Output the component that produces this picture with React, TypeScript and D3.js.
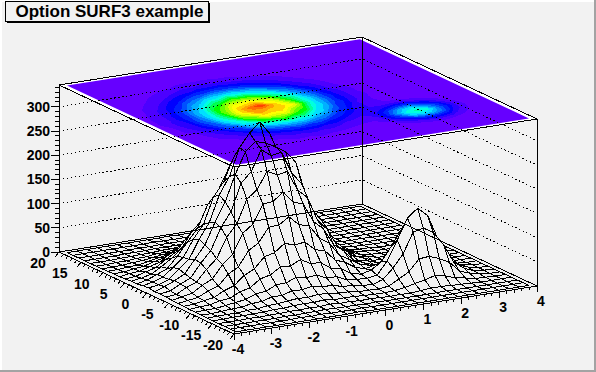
import React, { useMemo } from "react";
import * as d3 from "d3";

const W = 596, H = 372;
const titleText = "Option SURF3 example";
const xTicks = [-4, -3, -2, -1, 0, 1, 2, 3, 4];
const yTicks = [20, 15, 10, 5, 0, -5, -10, -15, -20];
const zTicks = [0, 50, 100, 150, 200, 250, 300];
const contourLevels = [0,8,18,30,42,56,70,84,100,118,134,150,165,181,198,214,231,250,268,284,298,311];
const contourColors = ["#6600ff","#4c00ff","#2a00ff","#0000ff","#0020ff","#0050ff","#0080ff","#00b0ff","#00e0ff","#00ffe0","#00ffa0","#00ff50","#00ff00","#60ff00","#a0ff00","#e0ff00","#ffff00","#ffd000","#ffa000","#ff7000","#ff4000","#ff0000"];

// bin contents: one row per y bin (y = -20 .. 20), one column per x bin (x = -4 .. 4)
const row00 = [0,0,0,0,0,0,0,0,0,0,0,0,1,0,0,0,0,0,0,0,0,0,0,0,0,0,0,0,0,0];
const row01 = [0,0,0,0,0,0,0,1,0,1,0,0,0,1,0,0,0,0,0,0,0,0,0,0,0,0,0,0,0,0];
const row02 = [0,0,0,0,0,0,1,0,1,1,2,1,1,1,0,1,0,0,0,0,0,0,1,0,0,0,0,0,0,0];
const row03 = [0,0,0,1,0,1,1,2,2,3,2,4,2,3,1,2,1,0,1,0,2,4,4,3,2,1,0,0,0,0];
const row04 = [0,0,1,1,1,2,3,3,5,6,5,7,4,5,4,3,2,2,3,6,11,15,21,17,10,6,2,1,0,0];
const row05 = [0,1,1,1,3,3,6,7,9,11,10,13,11,9,8,5,5,4,7,18,30,53,55,47,36,15,7,2,0,0];
const row06 = [1,0,2,3,4,8,9,15,15,21,20,24,19,20,13,13,9,8,15,35,61,103,108,95,67,28,12,3,1,0];
const row07 = [1,2,2,5,8,11,19,21,31,32,40,36,38,29,28,18,16,15,18,44,84,126,143,125,74,41,13,5,1,0];
const row08 = [1,3,4,9,11,21,26,41,46,59,58,68,56,55,40,36,22,18,23,37,66,97,115,90,62,33,11,4,1,0];
const row09 = [2,3,7,10,21,28,46,56,78,83,99,92,95,76,70,48,40,26,20,25,35,52,60,52,34,16,6,2,0,0];
const row10 = [2,5,8,18,25,46,58,88,101,130,131,145,125,120,91,77,49,37,24,18,17,20,22,17,11,6,2,1,0,0];
const row11 = [3,7,11,24,34,60,78,118,134,172,174,190,166,159,120,101,65,49,26,18,10,8,6,5,3,1,0,0,0,0];
const row12 = [4,6,17,25,48,67,108,132,180,196,231,220,224,183,163,113,90,52,38,17,13,5,3,1,1,0,0,0,0,0];
const row13 = [5,8,19,28,55,78,122,152,207,228,270,254,258,212,186,130,103,61,43,21,14,5,3,2,0,1,0,0,0,0];
const row14 = [4,11,20,31,58,84,128,166,220,263,281,275,263,250,225,152,101,73,40,27,11,8,2,1,1,0,0,0,0,0];
const row15 = [6,9,17,35,52,90,121,175,210,266,293,313,285,236,198,141,110,66,46,22,15,5,3,2,0,1,0,0,0,0];
const row16 = [5,9,16,33,50,84,112,165,193,240,252,272,239,225,172,142,94,68,37,25,11,7,4,1,1,0,0,0,0,0];
const row17 = [3,8,16,25,47,73,98,144,168,209,216,236,209,195,150,124,82,60,33,18,12,4,2,2,0,0,1,0,0,0];
const row18 = [3,6,11,23,37,55,85,106,146,158,186,177,179,148,131,92,72,43,30,15,8,5,2,1,1,0,0,0,0,0];
const row19 = [2,4,10,15,29,41,65,80,110,119,141,133,136,110,98,70,54,31,22,11,7,3,2,1,0,0,0,0,0,0];
const row20 = [1,4,6,12,18,32,41,62,70,90,92,100,88,84,63,53,34,25,14,9,4,3,1,0,1,0,0,0,0,0];
const row21 = [1,2,5,7,13,18,30,36,50,54,64,60,62,50,45,31,25,15,10,5,3,1,1,0,0,0,0,0,0,0];
const row22 = [1,1,3,4,8,12,16,25,27,36,35,41,34,33,24,21,13,11,5,4,2,1,0,0,0,0,0,0,0,0];
const row23 = [0,1,1,3,4,7,10,12,18,18,23,20,22,17,16,10,9,5,4,1,1,1,0,0,0,0,0,0,0,0];
const row24 = [0,0,1,1,3,3,6,6,10,10,11,12,10,10,7,7,4,3,2,1,0,1,0,0,0,0,0,0,0,0];
const row25 = [0,0,0,1,1,2,2,4,4,6,5,6,5,5,4,3,2,1,1,1,0,0,0,0,0,0,0,0,0,0];
const row26 = [0,0,0,0,1,1,1,2,2,2,3,3,2,2,2,1,1,1,0,0,0,0,0,0,0,0,0,0,0,0];
const row27 = [0,0,0,0,0,0,1,0,1,1,1,1,1,1,1,0,1,0,0,0,0,0,0,0,0,0,0,0,0,0];
const row28 = [0,0,0,0,0,0,0,0,1,0,0,0,1,0,0,0,0,0,0,0,0,0,0,0,0,0,0,0,0,0];
const row29 = [0,0,0,0,0,0,0,0,0,0,1,0,0,0,0,0,0,0,0,0,0,0,0,0,0,0,0,0,0,0];
const rows = [row00,row01,row02,row03,row04,row05,row06,row07,row08,row09,row10,row11,row12,row13,row14,row15,row16,row17,row18,row19,row20,row21,row22,row23,row24,row25,row26,row27,row28,row29];

const NB = 30;
const xMin = -4, xMax = 4, yMin = -20, yMax = 20, zMax = 345;
// oblique projection of the box: the front-bottom corner and the three edge vectors
const uScale = d3.scaleLinear().domain([xMin, xMax]).range([0, 1]);
const vScale = d3.scaleLinear().domain([yMin, yMax]).range([0, 1]);
const zScale = d3.scaleLinear().domain([0, zMax]).range([0, 167]);
const origin = [234, 334];
const ex = [303, -48];
const ey = [-175, -82];
function project(x: number, y: number, z: number): [number, number] {
  const u = uScale(x), v = vScale(y);
  return [origin[0] + u * ex[0] + v * ey[0], origin[1] + u * ex[1] + v * ey[1] - zScale(z)];
}
const binX = (i: number) => xMin + ((i + 0.5) * (xMax - xMin)) / NB;
const binY = (j: number) => yMin + ((j + 0.5) * (yMax - yMin)) / NB;

function polyPath(p: [number, number][], close = true) {
  return "M" + p.map((q) => q[0].toFixed(1) + "," + q[1].toFixed(1)).join("L") + (close ? "Z" : "");
}

// raster hidden-line removal: cells front to back, a mask of pixels already covered
function buildMesh(): string {
  const mask = new Uint8Array(W * H);
  const hit = (x: number, y: number) => {
    const px = Math.floor(x), py = Math.floor(y);
    if (px < 0 || py < 0 || px >= W || py >= H) return false;
    return mask[py * W + px] === 1;
  };
  let out = "";
  const drawEdge = (a: [number, number], b: [number, number]) => {
    const len = Math.hypot(b[0] - a[0], b[1] - a[1]);
    const n = Math.max(1, Math.ceil(len / 0.25));
    let start: [number, number] | null = null;
    let last: [number, number] = a;
    for (let k = 0; k <= n; k++) {
      const t = k / n;
      const p: [number, number] = [a[0] + (b[0] - a[0]) * t, a[1] + (b[1] - a[1]) * t];
      if (!hit(p[0], p[1])) {
        if (!start) start = p;
        last = p;
      } else if (start) {
        out += polyPath([start, last], false);
        start = null;
      }
    }
    if (start) out += polyPath([start, last], false);
  };
  const fill = (poly: [number, number][]) => {
    const ys = poly.map((p) => p[1]);
    const y0 = Math.max(0, Math.floor(d3.min(ys)!));
    const y1 = Math.min(H - 1, Math.ceil(d3.max(ys)!));
    for (let y = y0; y <= y1; y++) {
      const sy = y + 0.5;
      const xs: number[] = [];
      for (let k = 0; k < poly.length; k++) {
        const a = poly[k], b = poly[(k + 1) % poly.length];
        if ((a[1] <= sy && b[1] > sy) || (b[1] <= sy && a[1] > sy)) {
          xs.push(a[0] + ((sy - a[1]) / (b[1] - a[1])) * (b[0] - a[0]));
        }
      }
      xs.sort((p, q) => p - q);
      for (let k = 0; k + 1 < xs.length; k += 2) {
        for (let x = Math.ceil(xs[k] - 0.5); x + 0.5 <= xs[k + 1]; x++) {
          if (x >= 0 && x < W) mask[y * W + x] = 1;
        }
      }
    }
  };
  for (let i = 0; i < NB - 1; i++) {
    for (let j = 0; j < NB - 1; j++) {
      const p00 = project(binX(i), binY(j), rows[j][i]);
      const p10 = project(binX(i + 1), binY(j), rows[j][i + 1]);
      const p11 = project(binX(i + 1), binY(j + 1), rows[j + 1][i + 1]);
      const p01 = project(binX(i), binY(j + 1), rows[j + 1][i]);
      drawEdge(p00, p10);
      drawEdge(p10, p11);
      drawEdge(p11, p01);
      drawEdge(p01, p00);
      fill([p00, p10, p11, p01]);
    }
  }
  return out;
}

function buildContours() {
  const flat = rows.flat();
  const gen = d3.contours().size([NB, NB]).thresholds(contourLevels);
  const transform = d3.geoTransform({
    point(gx: number, gy: number) {
      const q = project(xMin + (gx * (xMax - xMin)) / NB, yMin + (gy * (yMax - yMin)) / NB, zMax);
      (this as any).stream.point(q[0], q[1]);
    },
  });
  const path = d3.geoPath(transform);
  return gen(flat).map((c, i) => ({ d: path(c as any) || "", color: contourColors[i] }));
}

const labelFont = "'Liberation Sans', Arial, sans-serif";

export default function App() {
  const mesh = useMemo(buildMesh, []);
  const contours = useMemo(buildContours, []);
  const corner = (x: number, y: number, z: number) => project(x, y, z);
  const topPlane = [corner(xMin, yMin, zMax), corner(xMax, yMin, zMax), corner(xMax, yMax, zMax), corner(xMin, yMax, zMax)];
  const innerPlane = [
    corner(binX(0), binY(0), zMax),
    corner(binX(NB - 1), binY(0), zMax),
    corner(binX(NB - 1), binY(NB - 1), zMax),
    corner(binX(0), binY(NB - 1), zMax),
  ];
  const boxLines =
    polyPath(topPlane) +
    polyPath([corner(xMin, yMax, 0), corner(xMax, yMax, 0), corner(xMax, yMin, 0)], false) +
    polyPath([corner(xMin, yMax, 0), corner(xMin, yMax, zMax)], false) +
    polyPath([corner(xMax, yMax, 0), corner(xMax, yMax, zMax)], false) +
    polyPath([corner(xMax, yMin, 0), corner(xMax, yMin, zMax)], false) +
    polyPath([corner(xMin, yMax, 0), corner(xMin, yMin, 0), corner(xMax, yMin, 0)], false);
  const grid = zTicks
    .filter((z) => z > 0)
    .map((z) => polyPath([corner(xMin, yMax, z), corner(xMax, yMax, z), corner(xMax, yMin, z)], false))
    .join("");

  let ticks = "";
  d3.range(0, 341, 10).forEach((z) => {
    const p = corner(xMin, yMax, z);
    ticks += polyPath([p, [p[0] - (z % 50 === 0 ? 8 : 4), p[1]]], false);
  });
  d3.range(-4, 4.01, 0.2).forEach((x) => {
    const p = corner(x, yMin, 0);
    const major = Math.abs(x - Math.round(x)) < 1e-6;
    ticks += polyPath([p, [p[0], p[1] + (major ? 6 : 3)]], false);
  });
  d3.range(-20, 20.01, 1).forEach((y) => {
    const p = corner(xMin, y, 0);
    const major = Math.abs(y % 5) < 1e-6;
    ticks += polyPath([p, [p[0] - (major ? 4 : 2), p[1] + (major ? 5 : 3)]], false);
  });
  const frontEdge = polyPath([corner(xMin, yMin, 0), corner(xMin, yMin, zMax)], false);

  const fs = 14;
  return (
    <svg width={W} height={H} style={{ position: "absolute", left: 0, top: 0, display: "block" }} fontFamily={labelFont}>
      <rect x={0} y={0} width={W} height={H} fill="#f2f2f2" />
      <path d={`M0,0H${W}V2H2V${H}H0Z`} fill="#ffffff" />
      <path d={`M${W},0V${H}H0V${H - 2}H${W - 2}V0Z`} fill="#a3a3a3" />

      <clipPath id="plane"><path d={polyPath(innerPlane)} /></clipPath>
      <path d={polyPath(topPlane)} fill="#ffffff" />
      <g clipPath="url(#plane)" shapeRendering="crispEdges">
        {contours.map((c, i) => <path key={i} d={c.d} fill={c.color} />)}
      </g>
      <path d={grid} fill="none" stroke="#000" strokeWidth={1} strokeDasharray="1.4 2.6" shapeRendering="crispEdges" />
      <path d={boxLines} fill="none" stroke="#000" strokeWidth={1} shapeRendering="crispEdges" />
      <path d={ticks} fill="none" stroke="#000" strokeWidth={1} shapeRendering="crispEdges" />
      <path d={mesh} fill="none" stroke="#000" strokeWidth={1} shapeRendering="crispEdges" />
      <path d={frontEdge} fill="none" stroke="#000" strokeWidth={1} shapeRendering="crispEdges" />

      <g fontSize={fs} fontWeight="bold" fill="#000">
        {zTicks.map((z) => {
          const p = corner(xMin, yMax, z);
          return <text key={z} x={50} y={p[1] + 5} textAnchor="end">{z}</text>;
        })}
        {xTicks.map((x) => {
          const p = corner(x, yMin, 0);
          return <text key={x} x={p[0] + 4} y={p[1] + 20} textAnchor="middle">{x}</text>;
        })}
        {yTicks.map((y) => {
          const p = corner(xMin, y, 0);
          return <text key={y} x={p[0] - 21} y={p[1] + 16} textAnchor="middle">{y}</text>;
        })}
      </g>

      <rect x={7} y={3} width={203} height={20} fill="#000" />
      <rect x={5.5} y={1.5} width={203} height={20} fill="#f2f2f2" stroke="#000" strokeWidth={1} shapeRendering="crispEdges" />
      <text x={109.5} y={17} textAnchor="middle" fontSize={17} fontWeight="bold" fill="#000">{titleText}</text>
    </svg>
  );
}
